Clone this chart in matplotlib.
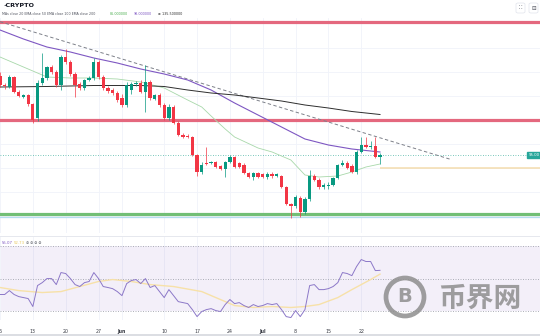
import numpy as np
import pandas as pd
import matplotlib
matplotlib.use("Agg")
import matplotlib.pyplot as plt
import matplotlib.dates as mdates
from matplotlib.patches import Ellipse, FancyBboxPatch

# daily candles, 6 May - 26 Jul 2024
start = pd.Timestamp("2024-05-06")
dates = pd.date_range(start, periods=82, freq="D")

opens = [174, 165, 163, 173, 158, 153, 155, 146, 132, 167, 172, 183, 178, 165, 193, 188,
         176, 166, 162, 170, 172, 188, 173, 162, 160, 157, 152, 145, 160, 166, 167, 158,
         168, 151, 155, 145, 132, 143, 127, 115, 114, 113, 95, 78, 87, 87, 88, 84,
         81, 88, 93, 87, 85, 77, 73, 77, 76, 73, 76, 74, 74, 63, 46, 44,
         52, 38, 51, 74, 70, 63, 64, 65, 72, 85, 87, 84, 78, 98, 105, 103, 104, 93]
highs = [178, 167, 175, 174, 160, 156, 156, 147, 170, 197, 184, 185, 180, 195, 201, 190,
         178, 168, 171, 174, 192, 190, 175, 164, 162, 159, 156, 168, 168, 169, 170, 185,
         170, 156, 157, 147, 146, 145, 129, 117, 116, 114, 96, 88, 103, 89, 89, 85,
         89, 95, 94, 88, 87, 78, 78, 78, 77, 78, 78, 77, 75, 64, 47, 55,
         54, 53, 80, 76, 72, 67, 68, 73, 86, 90, 89, 86, 100, 113, 113, 109, 113, 97]
lows = [163, 161, 162, 157, 153, 152, 144, 127, 129, 165, 170, 176, 163, 160, 186, 174,
        153, 160, 160, 169, 170, 171, 160, 157, 155, 148, 143, 143, 156, 164, 157, 138,
        150, 150, 143, 130, 130, 126, 114, 112, 112, 94, 74, 76, 85, 86, 82, 80,
        73, 87, 82, 82, 76, 72, 70, 72, 72, 71, 72, 73, 62, 45, 32, 42,
        33, 36, 49, 69, 61, 61, 61, 64, 71, 84, 81, 77, 76, 97, 102, 101, 92, 86]
closes = [165, 164, 173, 158, 154, 155, 146, 130, 167, 172, 183, 178, 165, 193, 188, 176,
          165, 162, 170, 172, 188, 173, 162, 159, 157, 150, 145, 165, 166, 167, 158, 168,
          152, 155, 145, 132, 143, 127, 115, 113, 113, 95, 78, 85, 86.5, 88, 83, 81,
          88, 93, 83, 83, 77, 73, 77, 73, 73, 76, 74, 76, 63, 46, 44, 53,
          38, 51, 74, 70, 63, 65, 65, 72, 85, 87, 82, 78, 98, 105, 103, 104, 93, 95]

# moving averages, sampled by day offset from 6 May
ma20_days = [0, 5, 10, 15, 20, 25, 30, 35, 40, 43, 45, 48, 50, 55, 58, 62, 65, 68, 72, 75, 78, 81]
ma20_vals = [193, 183, 173, 172, 172, 171, 168, 162, 150, 143, 134, 121, 113, 102, 98, 90,
             75, 73, 74, 78, 83, 86]
ma50_days = [0, 5, 10, 15, 20, 25, 30, 35, 40, 45, 50, 55, 60, 65, 70, 75, 81]
ma50_vals = [220, 211, 203, 198, 192, 187, 181, 176, 170, 160, 147, 135, 123, 111, 105, 101, 98]
ma200_days = [0, 10, 20, 30, 35, 40, 45, 50, 55, 60, 65, 70, 75, 81]
ma200_vals = [163, 163.5, 164.5, 164.5, 163.5, 160, 157, 155, 152, 149, 145, 142, 138.5, 135.5]

# drawn levels
resistance_top = 228
resistance_mid = 130.5
support_low = 36.5
support_line = 33.5
pivot_level = 82.5
trend_days = [0, 96]
trend_vals = [228.3, 90.7]

# RSI(14) and its moving average
rsi = [40.2, 40.2, 42.6, 40.2, 38.9, 38.3, 37.7, 32.8, 45.7, 47.5, 50.0, 50.0, 46.3, 53.7,
       53.1, 50.0, 46.3, 45.1, 47.5, 48.2, 53.7, 50.0, 45.1, 44.5, 43.8, 42.0, 39.5, 46.9,
       48.8, 49.4, 46.9, 50.0, 44.5, 45.7, 42.0, 38.3, 43.2, 39.5, 35.8, 35.2, 34.6, 30.9,
       26.6, 29.7, 30.9, 31.5, 30.3, 29.7, 34.0, 37.1, 34.6, 35.2, 33.4, 32.2, 34.0, 32.8,
       33.4, 34.6, 34.0, 34.6, 30.9, 26.6, 26.0, 30.3, 26.6, 30.9, 45.7, 46.3, 43.2, 43.2,
       43.8, 45.1, 47.5, 53.7, 53.1, 51.8, 57.4, 61.7, 60.5, 60.5, 54.9, 55.07]
rsi_ma_days = [0, 4, 9, 13, 17, 21, 24, 28, 32, 37, 43, 46, 50, 54, 58, 62, 65, 68, 72, 75, 79, 81]
rsi_ma_vals = [44.5, 42.6, 41.4, 42.0, 45.1, 48.2, 49.4, 48.2, 46.3, 45.1, 42.0, 38.3, 33.4,
               32.2, 32.8, 32.2, 32.8, 34.0, 38.3, 43.2, 49.4, 52.73]

tick_days = [0, 7, 14, 21, 26, 35, 42, 49, 56, 63, 70, 77]
tick_labels = ["6", "13", "20", "27", "Jun", "10", "17", "24", "Jul", "8", "15", "22"]

W, H = 540, 336
UP, DOWN = "#089981", "#f23645"


def day(d):
    return mdates.date2num(start + pd.to_timedelta(np.asarray(d, dtype=float), unit="D"))


fig = plt.figure(figsize=(W / 100, H / 100), dpi=100)
fig.patch.set_facecolor("white")
ax = fig.add_axes([0, (H - 233) / H, 1, (233 - 18) / H])
rax = fig.add_axes([0, (H - 320) / H, 1, (320 - 236) / H], sharex=ax)

x = mdates.date2num(dates)
xmin, xmax = day(0.21), day(115.1)

# grid
for a in (ax, rax):
    for t in day(tick_days):
        a.axvline(t, color="#f0f3fa", lw=0.6, zorder=0)
for g in [202, 178, 154, 130, 106, 82, 58, 34]:
    ax.axhline(g, color="#f0f3fa", lw=0.6, zorder=0)

# levels
ax.axhline(resistance_top + 1.2, color="#b878a8", lw=0.5, zorder=1)
ax.axhline(resistance_top, color="#e4687e", lw=2.3, zorder=1)
ax.axhline(resistance_mid, color="#e4687e", lw=2.3, zorder=1)
ax.axhline(support_low, color="#72bf75", lw=2.3, zorder=1)
ax.axhline(support_line, color="#b5dcef", lw=0.9, zorder=1)
ax.hlines(pivot_level, day(81), xmax, color="#f4dcae", lw=1.1, zorder=1)
ax.axhline(closes[-1], color="#4cb5a5", lw=0.6, ls=(0, (1, 2)), zorder=1)
ax.plot(day(trend_days), trend_vals, color="#7d8089", lw=0.7, ls=(0, (3.5, 2.5)), zorder=2)

# moving averages
ax.plot(day(ma20_days), ma20_vals, color="#a8d8aa", lw=0.6, zorder=2)
ax.plot(day(ma50_days), ma50_vals, color="#7e57c2", lw=0.8, zorder=2)
ax.plot(day(ma200_days), ma200_vals, color="#2e2e2e", lw=0.7, zorder=2)

# candles
o, h, l, c = map(np.array, (opens, highs, lows, closes))
cols = np.where(c >= o, UP, DOWN)
ax.vlines(x, l, h, colors=cols, lw=0.5, zorder=3)
body = np.maximum(np.abs(c - o), 0.9)
ax.bar(x, body, bottom=np.minimum(o, c), width=0.7, color=cols, lw=0, zorder=4)

# last price label
ax.text(0.9995, closes[-1], f"{closes[-1]:.2f}", transform=ax.get_yaxis_transform(),
        ha="right", va="center", fontsize=2.8, color="white",
        bbox=dict(boxstyle="square,pad=0.35", fc="#26a69a", ec="#26a69a"), zorder=6)

ax.set_xlim(xmin, xmax)
ax.set_ylim(17, 232)

# RSI pane
rax.fill_between([xmin, xmax], 30, 70, color="#7e57c2", alpha=0.09, lw=0)
for lv in (70, 50, 30):
    rax.axhline(lv, color="#a3a6b0", lw=0.6, ls=(0, (1.2, 1.8)))
rax.axhline(76.2, color="#e6e8ee", lw=0.7)
rax.plot(day(rsi_ma_days), rsi_ma_vals, color="#f7e1a8", lw=1.0)
rax.plot(x, rsi, color="#8c78c8", lw=0.7)
rax.set_ylim(24.5, 76.2)
rax.set_xlim(xmin, xmax)

for a in (ax, rax):
    for s in a.spines.values():
        s.set_visible(False)
    a.set_yticks([])
ax.tick_params(axis="x", length=0, labelbottom=False)
rax.set_xticks(day(tick_days))
rax.set_xticklabels(tick_labels)
rax.tick_params(axis="x", length=0, pad=6.5, labelsize=3.4, labelcolor="#3a3d46")
for lab in rax.get_xticklabels():
    if lab.get_text() in ("Jun", "Jul"):
        lab.set_fontweight("bold")

# header
fig.text(3 / W, 1 - 5.5 / H, "\u00b7CRYPTO", fontsize=4.6, fontweight="bold",
         color="#131722", va="center")
legend_y = 1 - 14 / H
fig.text(2 / W, legend_y, "MAs close 20 EMA close 50 EMA close 100 EMA close 200",
         fontsize=2.3, color="#50535e", va="center")
fig.text(110 / W, legend_y, f"{ma20_vals[-1]:.6f}", fontsize=2.4, color="#4caf50", va="center")
fig.text(134 / W, legend_y, f"{ma50_vals[-1]:.6f}", fontsize=2.4, color="#7e57c2", va="center")
fig.text(158 / W, legend_y, f"\u2298 {ma200_vals[-1]:.6f}", fontsize=2.4, color="#2e2e2e",
         va="center")
fig.text(2 / W, 1 - 243 / H, f"{rsi[-1]:.2f}", fontsize=2.8, color="#7e57c2", va="center")
fig.text(14 / W, 1 - 243 / H, f"{rsi_ma_vals[-1]:.2f}", fontsize=2.8, color="#e8c860", va="center")
fig.text(26 / W, 1 - 243 / H, "\u2298 \u2298 \u2298 \u2298", fontsize=2.6, color="#50535e",
         va="center")

# toolbar buttons
for bx, sym in ((516, "\u2237"), (529, "\u229f")):
    fig.patches.append(FancyBboxPatch((bx / W, 1 - 13 / H), 9 / W, 10 / H,
                                      boxstyle="round,pad=0,rounding_size=0.004",
                                      transform=fig.transFigure, fc="white", ec="#e0e3eb",
                                      lw=0.5))
    fig.text((bx + 4.5) / W, 1 - 8 / H, sym, fontsize=4, color="#50535e",
             ha="center", va="center")

# watermark
fig.patches.append(Ellipse((405 / W, 1 - 297 / H), 38 / W, 38 / H, transform=fig.transFigure,
                           fill=False, ec="#8e8e8e", lw=3.4, alpha=0.85))
fig.text(405 / W, 1 - 297 / H, "B", fontsize=14, fontweight="bold", color="#8e8e8e",
         alpha=0.85, ha="center", va="center")
fig.text(480 / W, 1 - 299 / H, "币界网", fontsize=20, fontweight="bold", color="#8e8e8e",
         alpha=0.85, ha="center", va="center", family=["Noto Sans CJK SC", "DejaVu Sans"])

fig.add_artist(plt.Line2D([0, 1], [1 - 334.5 / H] * 2, color="#d6d8de", lw=1.2,
                          transform=fig.transFigure))

fig.savefig("out.png", dpi=100, facecolor="white")
